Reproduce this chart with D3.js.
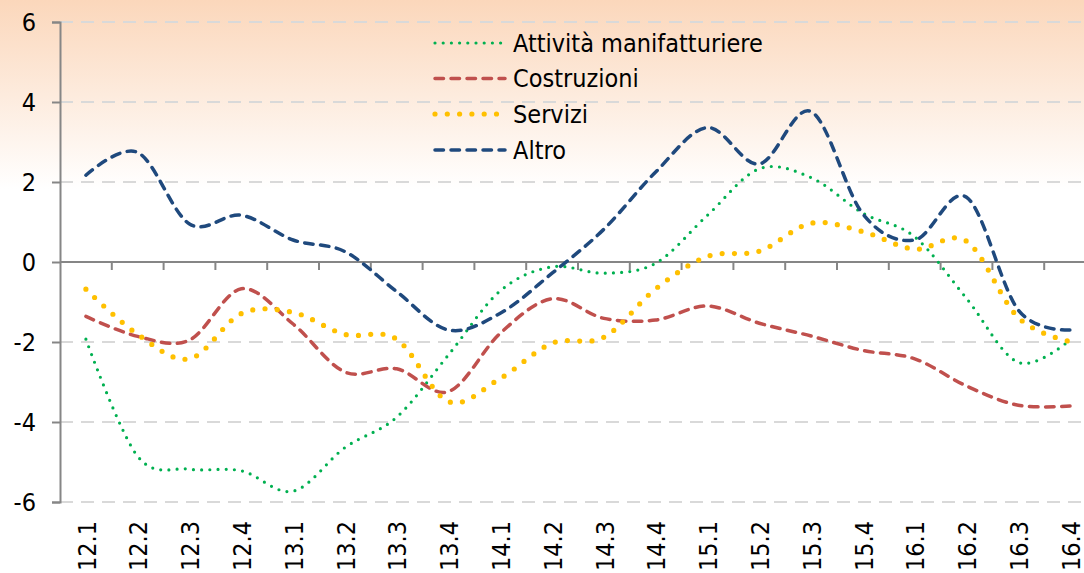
<!DOCTYPE html>
<html>
<head>
<meta charset="utf-8">
<script src="https://cdn.jsdelivr.net/npm/d3@7"></script>
<style>
  html, body { margin: 0; padding: 0; background: #ffffff; }
  svg { display: block; }
  text { font-family: "DejaVu Sans Condensed", "DejaVu Sans", sans-serif; fill: #000; }
</style>
</head>
<body>
<svg id="chart" width="1084" height="573"></svg>
<script>
const categories = ["12.1","12.2","12.3","12.4","13.1","13.2","13.3","13.4","14.1","14.2","14.3","14.4","15.1","15.2","15.3","15.4","16.1","16.2","16.3","16.4"];
const manifatturiere = [-1.93,-4.86,-5.18,-5.22,-5.73,-4.64,-3.88,-2.32,-0.72,-0.12,-0.28,-0.03,1.17,2.33,2.11,1.22,0.63,-0.91,-2.51,-1.95];
const costruzioni    = [-1.36,-1.86,-1.95,-0.67,-1.55,-2.75,-2.67,-3.24,-1.78,-0.92,-1.41,-1.45,-1.10,-1.53,-1.85,-2.21,-2.42,-3.10,-3.58,-3.60];
const servizi        = [-0.68,-1.81,-2.42,-1.29,-1.26,-1.81,-1.93,-3.49,-2.91,-2.03,-1.88,-0.67,0.14,0.27,0.97,0.76,0.32,0.52,-1.39,-1.99];
const altro          = [2.17,2.74,0.95,1.17,0.55,0.26,-0.74,-1.70,-1.28,-0.28,0.82,2.25,3.36,2.45,3.76,1.20,0.55,1.62,-1.20,-1.70];
const seriesNames = ["Attività manifatturiere","Costruzioni","Servizi","Altro"];
const yTicks = [-6,-4,-2,0,2,4,6];

const W = 1084, H = 573;
const svg = d3.select("#chart");

// background gradient
const defs = svg.append("defs");
const grad = defs.append("linearGradient").attr("id","bg").attr("x1",0).attr("y1",0).attr("x2",0).attr("y2",1);
grad.append("stop").attr("offset","0").attr("stop-color","#FBD7BB");
grad.append("stop").attr("offset","0.33").attr("stop-color","#FFFFFF");
grad.append("stop").attr("offset","1").attr("stop-color","#FFFFFF");
svg.append("rect").attr("width",W).attr("height",H).attr("fill","url(#bg)");

const x = d3.scaleBand().domain(categories).range([60, 1096]).padding(0);
const y = d3.scaleLinear().domain([-6, 6]).range([502, 22]);
const cx = c => x(c) + x.bandwidth() / 2;

// gridlines
svg.append("g").selectAll("line").data(yTicks.filter(t => t !== 0)).join("line")
  .attr("x1", 60).attr("x2", W).attr("y1", d => y(d)).attr("y2", d => y(d))
  .attr("stroke", "#D9D9D9").attr("stroke-width", 2).attr("stroke-dasharray", "13 8");

// y axis
const yAxis = d3.axisLeft(y).tickValues(yTicks).tickSize(8).tickPadding(16).tickFormat(d => String(d));
const gy = svg.append("g").attr("transform", "translate(60,0)").call(yAxis);
gy.select(".domain").attr("stroke", "#868686").attr("stroke-width", 2);
gy.selectAll(".tick line").attr("stroke", "#868686").attr("stroke-width", 2);
gy.selectAll(".tick text").attr("font-size", 25).attr("font-family", null).attr("fill", "#000");

// zero axis with ticks between categories
const gx = svg.append("g").attr("transform", `translate(0,${y(0)})`);
gx.append("line").attr("x1", 60).attr("x2", W).attr("stroke", "#868686").attr("stroke-width", 2);
gx.selectAll("line.tk").data(categories.slice(1).concat(["end"])).join("line").attr("class","tk")
  .attr("x1", (d, i) => x(categories[0]) + (i + 1) * x.bandwidth())
  .attr("x2", (d, i) => x(categories[0]) + (i + 1) * x.bandwidth())
  .attr("y1", 0).attr("y2", 8).attr("stroke", "#868686").attr("stroke-width", 2);

// x labels (rotated, at bottom)
svg.append("g").selectAll("text").data(categories).join("text")
  .attr("transform", d => `translate(${cx(d) + 1},521) rotate(-90)`)
  .attr("text-anchor", "end").attr("dy", "0.35em").attr("font-size", 25)
  .text(d => d);

// series
const styles = [
  { data: manifatturiere, color: "#00B050", width: 3.2, dash: "0 8.2" },
  { data: costruzioni,    color: "#C0504D", width: 3.5, dash: "8.5 7.5" },
  { data: servizi,        color: "#FFC000", width: 5.2, dash: "0 12.3" },
  { data: altro,          color: "#1F497D", width: 3.5, dash: "8.5 7.5" }
];
const line = d3.line().x((d, i) => cx(categories[i])).y(d => y(d)).curve(d3.curveCardinal.tension(0));
svg.append("g").selectAll("path").data(styles).join("path")
  .attr("d", s => line(s.data)).attr("fill", "none")
  .attr("stroke", s => s.color).attr("stroke-width", s => s.width)
  .attr("stroke-dasharray", s => s.dash).attr("stroke-linecap", "round");

// legend
const legY = [43, 78.5, 114, 150];
const leg = svg.append("g");
styles.forEach((s, i) => {
  leg.append("line").attr("x1", 435).attr("x2", 505).attr("y1", legY[i]).attr("y2", legY[i])
    .attr("stroke", s.color).attr("stroke-width", s.width).attr("stroke-dasharray", s.dash)
    .attr("stroke-linecap", "round");
  leg.append("text").attr("x", 513).attr("y", legY[i]).attr("dy", "0.35em").attr("font-size", 25)
    .text(seriesNames[i]);
});
</script>
</body>
</html>
